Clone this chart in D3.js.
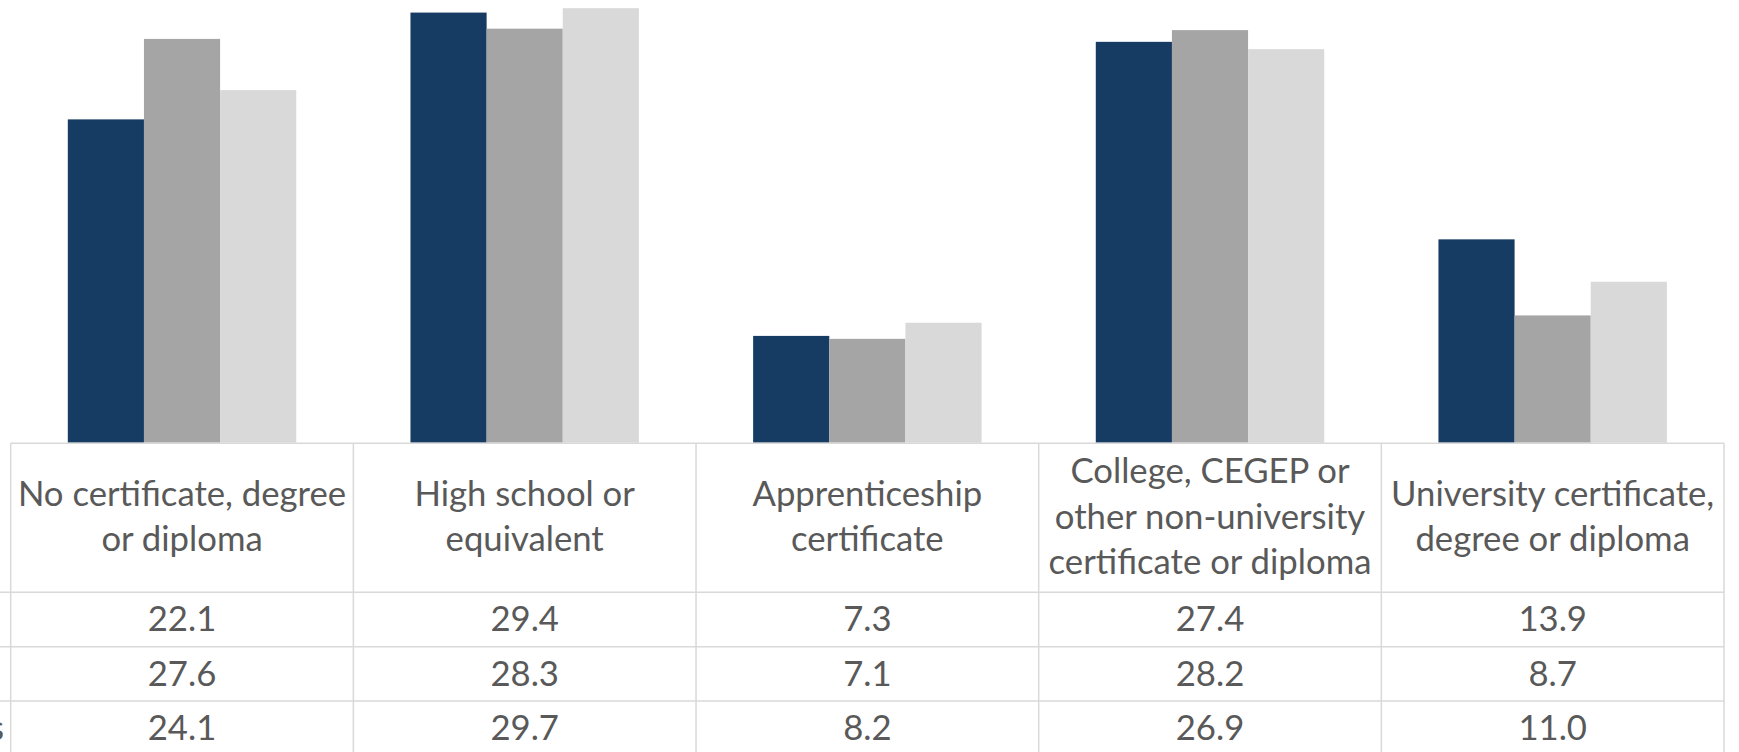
<!DOCTYPE html>
<html>
<head>
<meta charset="utf-8">
<script src="https://cdn.jsdelivr.net/npm/d3@7"></script>
<style>
    body { margin: 0; background: #fff; }
    svg { display: block; }
    .grid { stroke: #d9d9d9; stroke-width: 1.5; fill: none; }
    .cell-text { fill: #595959; font-family: Lato, "Open Sans", sans-serif; }
</style>
</head>
<body>
<div id="chart"></div>
<script>
// Education attainment shares (%) by series, drawn as Excel-style bar chart with data table.

const categories = [
    "No certificate, degree\nor diploma",
    "High school or\nequivalent",
    "Apprenticeship\ncertificate",
    "College, CEGEP or\nother non-university\ncertificate or diploma",
    "University certificate,\ndegree or diploma",
];
const seriesNames = ["Indigenous youth", "Non-Indigenous youth", "All young workers"];
const seriesA = [22.1, 29.4, 7.3, 27.4, 13.9];
const seriesB = [27.6, 28.3, 7.1, 28.2, 8.7];
const seriesC = [24.1, 29.7, 8.2, 26.9, 11.0];
const seriesColors = ["#173c63", "#a5a5a5", "#d9d9d9"];

const WIDTH = 1739;
const HEIGHT = 752;
const TABLE_LEFT = 10.7;
const TABLE_RIGHT = 1724;
const BASELINE = 442.7;
const HEADER_BOTTOM = 592.3;
const ROW_HEIGHT = 54.4;
const LINE_GAP = 45.5;
const HEADER_MID = 528.5;

const series = [seriesA, seriesB, seriesC];

const svg = d3.select("#chart").append("svg")
    .attr("width", WIDTH)
    .attr("height", HEIGHT);

const x = d3.scaleBand()
    .domain(d3.range(categories.length))
    .range([TABLE_LEFT, TABLE_RIGHT]);

const xInner = d3.scaleBand()
    .domain(d3.range(series.length))
    .range([0, x.bandwidth()])
    .paddingOuter(0.75);

const y = d3.scaleLinear()
    .domain([0, 30])
    .range([BASELINE, 3.8]);

// bars
const groups = svg.append("g")
    .selectAll("g")
    .data(categories.map((c, i) => i))
    .join("g")
    .attr("transform", i => `translate(${x(i)},0)`);

groups.selectAll("rect")
    .data(i => series.map((s, k) => ({ k, v: s[i] })))
    .join("rect")
    .attr("x", d => xInner(d.k))
    .attr("width", xInner.bandwidth())
    .attr("y", d => y(d.v))
    .attr("height", d => y(0) - y(d.v))
    .attr("fill", d => seriesColors[d.k]);

// data table grid
const grid = svg.append("g");
const rowTops = d3.range(series.length + 1).map(r => HEADER_BOTTOM + r * ROW_HEIGHT);

grid.append("line").attr("class", "grid")
    .attr("x1", TABLE_LEFT).attr("x2", TABLE_RIGHT)
    .attr("y1", BASELINE + 0.5).attr("y2", BASELINE + 0.5);

grid.selectAll("line.row")
    .data(rowTops)
    .join("line")
    .attr("class", "grid row")
    .attr("x1", 0).attr("x2", TABLE_RIGHT)
    .attr("y1", d => d).attr("y2", d => d);

grid.selectAll("line.col")
    .data(d3.range(categories.length + 1))
    .join("line")
    .attr("class", "grid col")
    .attr("x1", i => TABLE_LEFT + i * x.step())
    .attr("x2", i => TABLE_LEFT + i * x.step())
    .attr("y1", BASELINE + 0.5)
    .attr("y2", HEIGHT);

// fit font to Calibri-like metrics of the original
const probe = svg.append("text").attr("class", "cell-text")
    .style("font-size", "37px").text("certificate or diploma");
const fontSize = 37 * 323 / probe.node().getComputedTextLength();
probe.remove();

// header labels
const headers = svg.append("g")
    .selectAll("text")
    .data(categories)
    .join("text")
    .attr("class", "cell-text")
    .style("font-size", fontSize + "px")
    .attr("text-anchor", "middle");

headers.each(function (label, i) {
    const lines = label.split("\n");
    d3.select(this).selectAll("tspan")
        .data(lines)
        .join("tspan")
        .attr("x", x(i) + x.bandwidth() / 2)
        .attr("y", (d, k) => HEADER_MID + (k - (lines.length - 1) / 2) * LINE_GAP)
        .text(d => d);
});

// value rows
series.forEach((s, r) => {
    const yMid = rowTops[r] + ROW_HEIGHT / 2;
    svg.append("g")
        .selectAll("text")
        .data(s)
        .join("text")
        .attr("class", "cell-text")
        .style("font-size", fontSize + "px")
        .attr("text-anchor", "middle")
        .attr("x", (d, i) => x(i) + x.bandwidth() / 2)
        .attr("y", yMid + fontSize * 0.34)
        .text(d => d.toFixed(1));

    // row label column, mostly cut off at the left edge
    svg.append("text")
        .attr("class", "cell-text")
        .style("font-size", fontSize + "px")
        .attr("text-anchor", "end")
        .attr("x", r === 2 ? 4 : -14)
        .attr("y", yMid + fontSize * 0.34)
        .text(seriesNames[r]);
});
</script>
</body>
</html>
